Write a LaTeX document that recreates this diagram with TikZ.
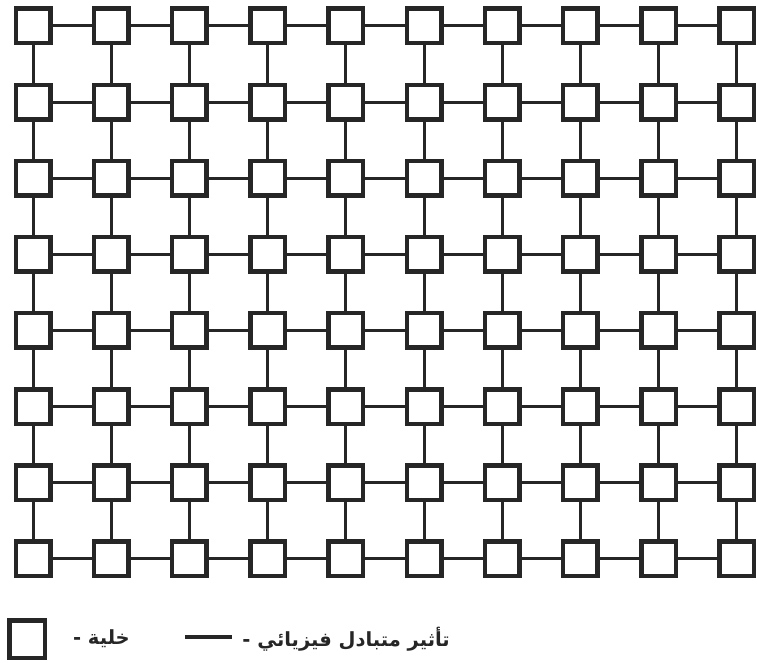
\documentclass[tikz,border=0pt]{standalone}
\usepackage{fontspec}
\newfontfamily\arabicfont[Script=Arabic]{DejaVu Sans}
\TeXXeTstate=1
\begin{document}
\begin{tikzpicture}[x=1pt,y=-1pt,
  cell/.style={draw=black!85, line width=4.5pt, minimum size=34.5pt, inner sep=0pt, fill=white},
  link/.style={line width=3pt, draw=black!85},
  legtext/.style={font=\arabicfont\bfseries\fontsize{19.5}{22}\selectfont, text=black!85, inner sep=0pt}]
\useasboundingbox (0,0) rectangle (757,663);
\foreach \i in {0,...,9}
  \foreach \j in {0,...,7}
    \node[cell] (c-\i-\j) at ({33+78.2*\i},{26+76.1*\j}) {};
\foreach \j in {0,...,7}
  \foreach \i in {0,...,8} {
    \pgfmathtruncatemacro\n{\i+1}
    \draw[link] (c-\i-\j) -- (c-\n-\j);
  }
\foreach \i in {0,...,9}
  \foreach \j in {0,...,6} {
    \pgfmathtruncatemacro\n{\j+1}
    \draw[link] (c-\i-\j) -- (c-\i-\n);
  }
\node[cell, minimum width=35.5pt, minimum height=37.5pt] (legcell) at (27,639) {};
\node[legtext, anchor=east] (legcelltext) at (130,639) {\beginR خلية -\endR};
\coordinate (la) at (185,637);
\coordinate (lb) at (232,637);
\draw[line width=3.5pt, draw=black!85] (la) -- (lb);
\node[legtext, anchor=east] (leglinetext) at (450,639) {\beginR تأثير متبادل فيزيائي -\endR};
\end{tikzpicture}
\end{document}
